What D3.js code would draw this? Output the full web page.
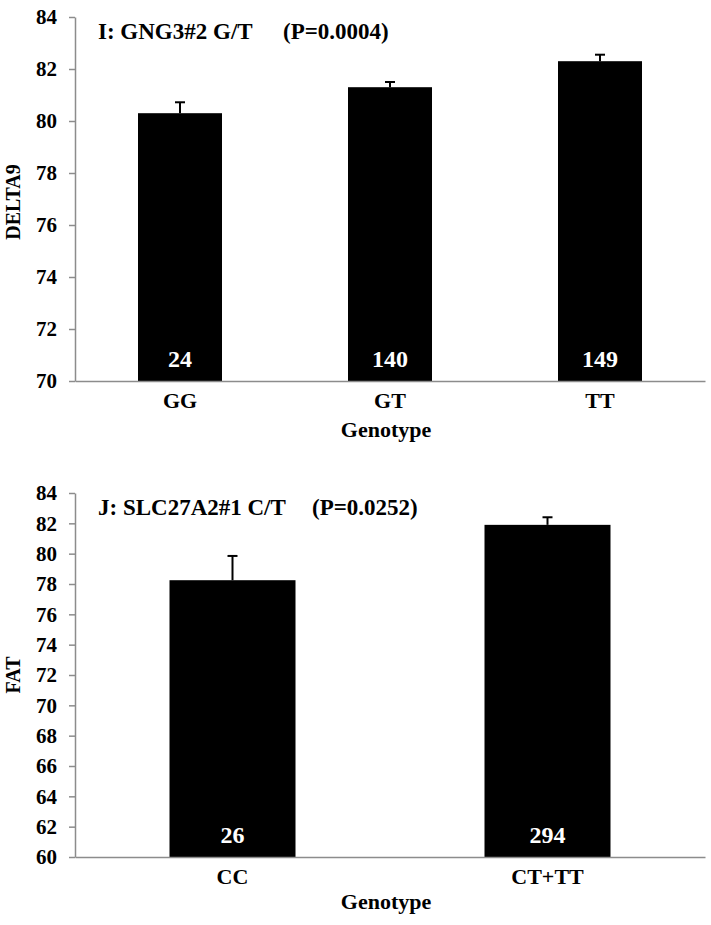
<!DOCTYPE html>
<html><head><meta charset="utf-8">
<script src="https://cdn.jsdelivr.net/npm/d3@7"></script>
<style>body{margin:0;background:#fff}svg{display:block}</style>
</head><body>
<svg id="c" width="711" height="925"></svg>
<script>
const catsI = ["GG","GT","TT"];
const meansI = [80.3, 81.3, 82.3];
const errI = [0.42, 0.2, 0.25];
const nI = ["24","140","149"];
const ticksI = [70,72,74,76,78,80,82,84];

const catsJ = ["CC","CT+TT"];
const meansJ = [78.25, 81.9];
const errJ = [1.6, 0.5];
const nJ = ["26","294"];
const ticksJ = [60,62,64,66,68,70,72,74,76,78,80,82,84];

const svg = d3.select("#c");
const FONT = "'Liberation Serif','Times New Roman',serif";

function panel(o){
  const g = svg.append("g");
  const x = d3.scaleBand().domain(o.cats).range([75, 705]).paddingInner(0.6).paddingOuter(0.3);
  const y = d3.scaleLinear().domain([o.ticks[0], o.ticks[o.ticks.length-1]]).range([o.y0, o.y1]);
  g.selectAll("rect.bar").data(o.cats).join("rect")
    .attr("x", d=>x(d)).attr("width", x.bandwidth())
    .attr("y", (d,i)=>y(o.means[i])).attr("height", (d,i)=>y(o.ticks[0])-y(o.means[i]))
    .attr("fill","#000");
  o.cats.forEach((c,i)=>{
    const cx = x(c)+x.bandwidth()/2;
    const top = y(o.means[i]+o.err[i]);
    g.append("line").attr("x1",cx).attr("x2",cx).attr("y1",y(o.means[i])).attr("y2",top).attr("stroke","#000").attr("stroke-width",2);
    g.append("line").attr("x1",cx-5).attr("x2",cx+5).attr("y1",top).attr("y2",top).attr("stroke","#000").attr("stroke-width",2);
    g.append("text").attr("x",cx).attr("y",o.y0-14).attr("text-anchor","middle")
      .attr("fill","#fff").attr("font-family",FONT).attr("font-weight","bold").attr("font-size",24).text(o.n[i]);
  });
  const ya = g.append("g").attr("transform","translate(75,0)")
    .call(d3.axisLeft(y).tickValues(o.ticks).tickSize(6).tickSizeOuter(0).tickPadding(12));
  ya.select(".domain").attr("stroke","#8c8c8c").attr("stroke-width",1.5);
  ya.selectAll(".tick line").attr("stroke","#8c8c8c").attr("stroke-width",1.5);
  ya.selectAll("text").attr("font-family",FONT).attr("font-weight","bold").attr("font-size",21).attr("fill","#000");
  const xa = g.append("g").attr("transform",`translate(0,${o.y0})`)
    .call(d3.axisBottom(x).tickSize(0).tickPadding(11));
  xa.select(".domain").attr("stroke","#8c8c8c").attr("stroke-width",1.5);
  xa.selectAll("text").attr("font-family",FONT).attr("font-weight","bold").attr("font-size",22).attr("fill","#000");
  g.append("text").attr("x",386).attr("y",o.y0+o.genY).attr("text-anchor","middle")
    .attr("font-family",FONT).attr("font-weight","bold").attr("font-size",22).text("Genotype");
  g.append("text").attr("transform",`translate(20,${o.ylabY}) rotate(-90)`).attr("text-anchor","middle")
    .attr("font-family",FONT).attr("font-weight","bold").attr("font-size",20).text(o.ylab);
  g.append("text").attr("x",98).attr("y",o.y1+22).attr("font-family",FONT).attr("font-weight","bold")
    .attr("font-size",23).text(o.title[0]);
  g.append("text").attr("x",o.pX).attr("y",o.y1+22).attr("font-family",FONT).attr("font-weight","bold")
    .attr("font-size",23).text(o.title[1]);
}

panel({cats:catsI, means:meansI, err:errI, n:nI, ticks:ticksI, y0:381, y1:17, ylab:"DELTA9", ylabY:202, genY:56,
  title:["I: GNG3#2 G/T","(P=0.0004)"], pX:283});
panel({cats:catsJ, means:meansJ, err:errJ, n:nJ, ticks:ticksJ, y0:857, y1:493, ylab:"FAT", ylabY:675, genY:52,
  title:["J: SLC27A2#1 C/T","(P=0.0252)"], pX:312});
</script>
</body></html>
